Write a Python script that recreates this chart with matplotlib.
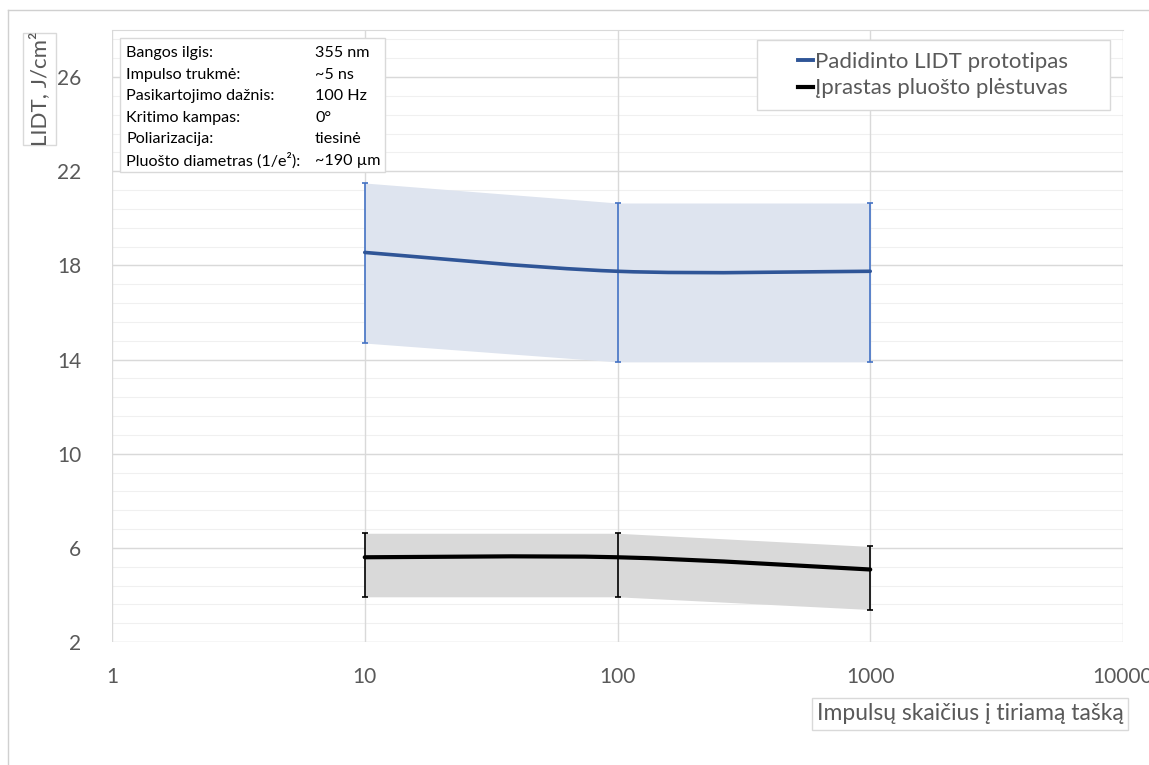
import numpy as np
import matplotlib
matplotlib.use("Agg")
import matplotlib.pyplot as plt
from matplotlib.path import Path
from matplotlib.patches import PathPatch, Rectangle
from matplotlib.lines import Line2D

plt.rcParams["font.family"] = ["Lato", "DejaVu Sans"]

# data
pulses = [10, 100, 1000]
proto_mean = [18.55, 17.75, 17.75]
proto_low = [14.7, 13.9, 13.9]
proto_high = [21.5, 20.65, 20.65]
std_mean = [5.6, 5.6, 5.08]
std_low = [3.92, 3.92, 3.38]
std_high = [6.62, 6.62, 6.06]

series_names = ["Padidinto LIDT prototipas", "Įprastas pluošto plėstuvas"]
info_labels = ["Bangos ilgis:", "Impulso trukmė:", "Pasikartojimo dažnis:",
               "Kritimo kampas:", "Poliarizacija:", "Pluošto diametras (1/e²):"]
info_values = ["355 nm", "~5 ns", "100 Hz", "0°", "tiesinė", "~190 µm"]

y_ticks = [2, 6, 10, 14, 18, 22, 26]
x_ticks = [1, 10, 100, 1000, 10000]

BLUE = "#2F5597"
BLUE_ERR = "#4472C4"
BLUE_FILL = "#DEE4EF"
GRAY_FILL = "#D9D9D9"
TXT = "#595959"
GRID = "#D9D9D9"
MINOR = "#F0F0F0"

W, H = 1149, 765


def fx(px):
    return px / W


def fy(py):
    return 1 - py / H


def smooth_path(x, y):
    # Excel-style smoothed line: Catmull-Rom segments in log-x space
    lx = np.log10(np.asarray(x, float))
    yy = np.asarray(y, float)
    n = len(lx)
    verts = [(x[0], yy[0])]
    codes = [Path.MOVETO]
    for i in range(n - 1):
        i0 = max(i - 1, 0)
        i3 = min(i + 2, n - 1)
        c1 = (lx[i] + (lx[i + 1] - lx[i0]) / 6, yy[i] + (yy[i + 1] - yy[i0]) / 6)
        c2 = (lx[i + 1] - (lx[i3] - lx[i]) / 6, yy[i + 1] - (yy[i3] - yy[i]) / 6)
        verts += [(10 ** c1[0], c1[1]), (10 ** c2[0], c2[1]), (x[i + 1], yy[i + 1])]
        codes += [Path.CURVE4] * 3
    return Path(verts, codes)


fig = plt.figure(figsize=(W / 100, H / 100), dpi=100)

# outer chart frame (top and left edges visible)
fig.add_artist(Line2D([fx(8), 1], [fy(10), fy(10)], color="#D0D0D0", lw=1))
fig.add_artist(Line2D([fx(8), fx(8)], [0, fy(10)], color="#D0D0D0", lw=1))

ax = fig.add_axes([fx(112), fy(642), fx(1123) - fx(112), fy(30) - fy(642)])
ax.set_xscale("log")
ax.set_xlim(1, 10000)
ax.set_ylim(2, 28)

# gridlines
for v in np.arange(2, 28.01, 0.8):
    ax.axhline(v, color=MINOR, lw=0.8, zorder=0)
for v in y_ticks:
    ax.axhline(v, color=GRID, lw=1, zorder=0.5)
for v in x_ticks:
    ax.axvline(v, color=GRID, lw=1, zorder=0.5)

for s in ax.spines.values():
    s.set_visible(False)
ax.spines["top"].set_visible(True)
ax.spines["top"].set_color(GRID)

ax.set_yticks(y_ticks)
ax.set_yticklabels([str(v) for v in y_ticks])
ax.set_xticks(x_ticks)
ax.set_xticklabels([str(v) for v in x_ticks])
ax.minorticks_off()
ax.tick_params(axis="y", length=0, pad=22, labelsize=15, labelcolor=TXT)
ax.tick_params(axis="x", length=0, pad=18, labelsize=15, labelcolor=TXT)

# shaded bands
ax.fill_between(pulses, proto_low, proto_high, color=BLUE_FILL, lw=0, zorder=1)
ax.fill_between(pulses, std_low, std_high, color=GRAY_FILL, lw=0, zorder=1)

# error bars
pm = np.array(proto_mean)
sm = np.array(std_mean)
ax.errorbar(pulses, pm, yerr=[pm - np.array(proto_low), np.array(proto_high) - pm],
            fmt="none", ecolor=BLUE_ERR, elinewidth=1.2, capsize=2.5, capthick=1.2, zorder=2)
ax.errorbar(pulses, sm, yerr=[sm - np.array(std_low), np.array(std_high) - sm],
            fmt="none", ecolor="black", elinewidth=1.2, capsize=2.5, capthick=1.2, zorder=2)

# smoothed lines
ax.add_patch(PathPatch(smooth_path(pulses, proto_mean), fill=False, edgecolor=BLUE,
                       lw=2.6, zorder=3, capstyle="round"))
ax.add_patch(PathPatch(smooth_path(pulses, std_mean), fill=False, edgecolor="black",
                       lw=3.0, zorder=3, capstyle="round"))

# legend: separate frame, text block centred inside
fig.add_artist(Rectangle((fx(757), fy(110)), fx(1110) - fx(757), fy(40) - fy(110),
                         transform=fig.transFigure, facecolor="white",
                         edgecolor=GRID, lw=1, zorder=4))
handles = [Line2D([], [], color=BLUE, lw=2.8), Line2D([], [], color="black", lw=3.0)]
leg = fig.legend(handles, series_names, loc="center",
                 bbox_to_anchor=(fx(933), fy(75)), frameon=False,
                 fontsize=16, handlelength=0.7, handletextpad=0.1,
                 borderpad=0, borderaxespad=0, labelspacing=0.3,
                 labelcolor=TXT)
leg.set_zorder(5)

# info box
fig.add_artist(Rectangle((fx(120), fy(172)), fx(385) - fx(120), fy(38) - fy(172),
                         transform=fig.transFigure, facecolor="white",
                         edgecolor=GRID, lw=1, zorder=5))
for i, (lab, val) in enumerate(zip(info_labels, info_values)):
    yy = fy(53 + i * 21.6)
    fig.text(fx(126), yy, lab, fontsize=11.6, color="black", va="center", zorder=6)
    fig.text(fx(315), yy, val, fontsize=11.6, color="black", va="center", zorder=6)

# axis titles in boxes
fig.add_artist(Rectangle((fx(23), fy(145)), fx(56) - fx(23), fy(33) - fy(145),
                         transform=fig.transFigure, facecolor="white",
                         edgecolor=GRID, lw=1, zorder=4))
fig.text(fx(40), fy(89), "LIDT, J/cm²", rotation=90, ha="center", va="center",
         fontsize=16, color=TXT, zorder=5)
fig.add_artist(Rectangle((fx(812), fy(730)), fx(1128) - fx(812), fy(698) - fy(730),
                         transform=fig.transFigure, facecolor="white",
                         edgecolor=GRID, lw=1, zorder=4))
fig.text(fx(970), fy(714), "Impulsų skaičius į tiriamą tašką", ha="center", va="center",
         fontsize=16.5, color=TXT, zorder=5)

fig.savefig("out.png", dpi=100)
